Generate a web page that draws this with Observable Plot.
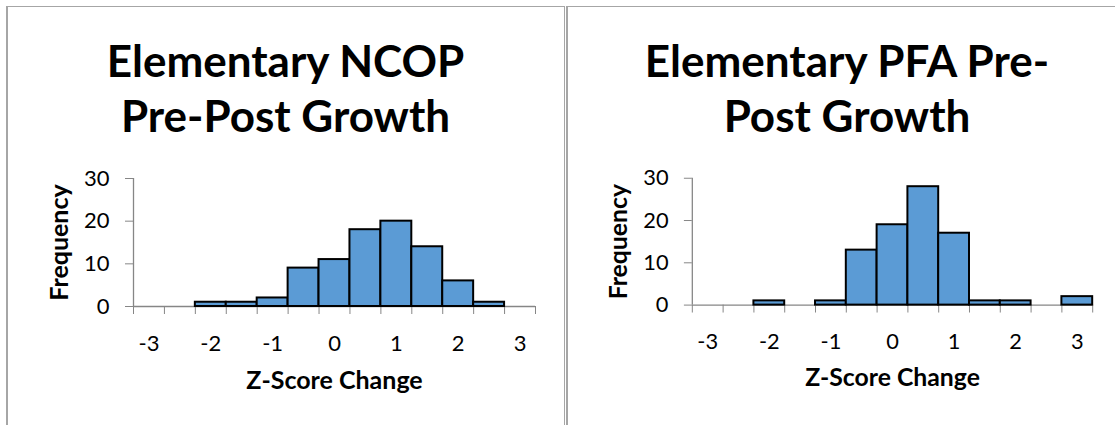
<!DOCTYPE html>
<html>
<head>
<meta charset="utf-8">
<script src="https://cdn.jsdelivr.net/npm/d3@7"></script>
<script src="https://cdn.jsdelivr.net/npm/@observablehq/plot@0.6"></script>
<style>
  html, body { margin: 0; padding: 0; background: #fff; }
  body { width: 1115px; height: 425px; overflow: hidden; position: relative; font-family: Lato, "Open Sans", sans-serif; }
  .panel { position: absolute; top: 6px; height: 440px; border: 1px solid #a6a6a6; border-left-width: 2px; box-sizing: border-box; }
  .title { position: absolute; top: 33px; text-align: center; font: bold 44px Lato, sans-serif; line-height: 55px; color: #000; }
  .chart { position: absolute; top: 150px; }
</style>
</head>
<body>
<div class="panel" style="left:6px;width:559px;"></div>
<div class="panel" style="left:566px;width:562px;"></div>
<div class="title" style="left:6px;width:559px;">Elementary NCOP<br>Pre-Post Growth</div>
<div class="title" style="left:566px;width:562px;">Elementary PFA Pre-<br>Post Growth</div>
<div class="chart" id="c1" style="left:0px;"></div>
<div class="chart" id="c2" style="left:560px;"></div>
<script>
// Bin centers (bin width 0.5)
const binCenters = [-3, -2.5, -2, -1.5, -1, -0.5, 0, 0.5, 1, 1.5, 2, 2.5, 3];
// Frequencies per bin
const ncopCounts = [0, 0, 1, 1, 2, 9, 11, 18, 20, 14, 6, 1, 0];
const pfaCounts  = [0, 0, 1, 0, 1, 13, 19, 28, 17, 1, 1, 0, 2];
// Axis tick labels
const xTickLabels = [-3, -2, -1, 0, 1, 2, 3];
const yTickLabels = [0, 10, 20, 30];

const binWidth = 0.5;
const axisGray = "#868686";
const barFill = "#5B9BD5";

function makeChart(counts, marginRight) {
  const data = binCenters.map((c, i) => ({x1: c - binWidth / 2, x2: c + binWidth / 2, count: counts[i]}))
    .filter(d => d.count > 0);
  const edges = binCenters.map(c => c - binWidth / 2).concat([binCenters[binCenters.length - 1] + binWidth / 2]);
  return Plot.plot({
    width: 560,
    height: 275,
    marginLeft: 133,
    marginRight: marginRight,
    marginTop: 28,
    marginBottom: 119,
    style: {fontFamily: "Lato, sans-serif", color: "#000", background: "transparent"},
    x: {domain: [edges[0], edges[edges.length - 1]]},
    y: {domain: [0, 30]},
    marks: [
      Plot.ruleY([0], {stroke: axisGray, strokeWidth: 1.3}),
      Plot.ruleX([edges[0]], {stroke: axisGray, strokeWidth: 1.3}),
      Plot.axisY({ticks: yTickLabels, tickSize: 8, tickPadding: 16, stroke: axisGray, fontSize: 22, tickFormat: d => String(d), label: null}),
      Plot.axisX({ticks: edges, tickSize: 8, tickFormat: () => "", stroke: axisGray, label: null}),
      Plot.axisX({ticks: xTickLabels, tickSize: 0, tickPadding: 29, fontSize: 22, tickFormat: d => String(d), label: null}),
      Plot.rectY(data, {x1: "x1", x2: "x2", y: "count", fill: barFill, stroke: "#000", strokeWidth: 2}),
      Plot.text(["Frequency"], {frameAnchor: "left", textAnchor: "middle", rotate: -90, dx: -74, fontSize: 25, fontWeight: "bold"}),
      Plot.text(["Z-Score Change"], {frameAnchor: "bottom", textAnchor: "middle", dy: 82, fontSize: 25, fontWeight: "bold"})
    ]
  });
}

document.getElementById("c1").appendChild(makeChart(ncopCounts, 25));
document.getElementById("c2").appendChild(makeChart(pfaCounts, 23));
</script>
</body>
</html>
